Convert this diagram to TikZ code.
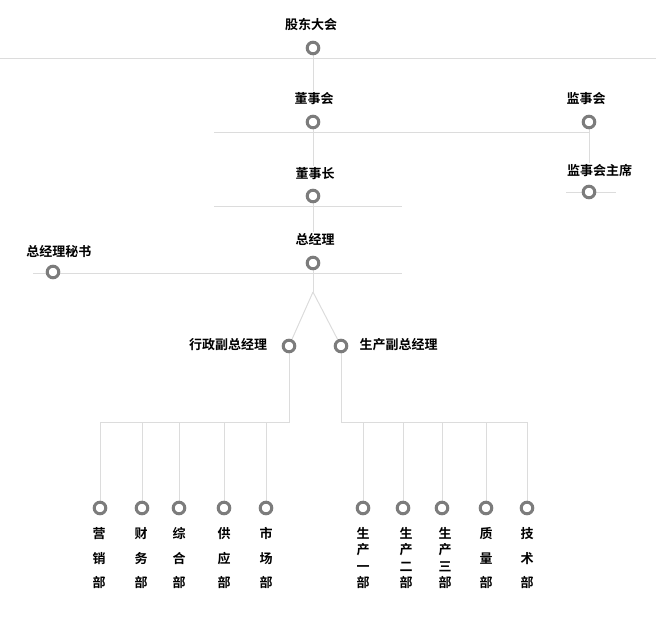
\documentclass[tikz,border=0pt]{standalone}
\usepackage{fontspec}
\setmainfont{Noto Sans CJK SC Bold}
\usetikzlibrary{backgrounds}
\definecolor{ringgray}{HTML}{7C7C7C}
\definecolor{linegray}{HTML}{DCDCDC}
\tikzset{
  ring/.style={circle, draw=ringgray, line width=3pt, fill=white, minimum size=11.6pt, inner sep=0pt},
  lbl/.style={font=\fontsize{13}{13}\selectfont, inner xsep=1pt, inner ysep=2pt, text height=10pt, text depth=2pt},
  conn/.style={draw=linegray, line width=1pt},
  leafA/.style={font=\fontsize{13}{24.5}\selectfont, align=center, inner sep=0pt},
  leafB/.style={font=\fontsize{13}{16.4}\selectfont, align=center, inner sep=0pt},
}
\begin{document}
\begin{tikzpicture}[x=1pt,y=-1pt]
\useasboundingbox (0,0) rectangle (656,640);
% labels
\node[lbl] (gdT) at (311,25) {股东大会};
\node[lbl] (dshT) at (314,99.5) {董事会};
\node[lbl] (dszT) at (315,174) {董事长};
\node[lbl] (jshT) at (586,99.5) {监事会};
\node[lbl] (jszT) at (599.5,171) {监事会主席};
\node[lbl] (zjlT) at (315,240) {总经理};
\node[lbl] (msT) at (59,252.5) {总经理秘书};
\node[lbl] (xzT) at (228,345) {行政副总经理};
\node[lbl] (scT) at (398.5,345) {生产副总经理};
% rings
\node[ring] (gdC) at (313,48) {};
\node[ring] (dshC) at (313,122) {};
\node[ring] (dszC) at (313,196) {};
\node[ring] (zjlC) at (313,263) {};
\node[ring] (jshC) at (589,122) {};
\node[ring] (jszC) at (589,192) {};
\node[ring] (msC) at (53,272) {};
\node[ring] (xzC) at (289,346) {};
\node[ring] (scC) at (341,346) {};
\node[ring] (yx) at (100,508) {};
\node[ring] (cw) at (142,508) {};
\node[ring] (zh) at (179,508) {};
\node[ring] (gy) at (224,508) {};
\node[ring] (sc) at (266,508) {};
\node[ring] (s1) at (363,508) {};
\node[ring] (s2) at (403,508) {};
\node[ring] (s3) at (442,508) {};
\node[ring] (zl) at (486,508) {};
\node[ring] (js) at (527,508) {};
% leaf labels
\node[leafA] (yxT) at (99,558.2) {营\\销\\部};
\node[leafA] (cwT) at (141,558.2) {财\\务\\部};
\node[leafA] (zhT) at (179,558.2) {综\\合\\部};
\node[leafA] (gyT) at (224,558.2) {供\\应\\部};
\node[leafA] (scLT) at (266,558.2) {市\\场\\部};
\node[leafB] (s1T) at (363,558.2) {生\\产\\一\\部};
\node[leafB] (s2T) at (406,558.2) {生\\产\\二\\部};
\node[leafB] (s3T) at (445,558.2) {生\\产\\三\\部};
\node[leafA] (zlT) at (486,558.2) {质\\量\\部};
\node[leafA] (jsT) at (527,558.2) {技\\术\\部};
% coordinates
\coordinate (h0a) at (0,58);   \coordinate (h0b) at (656,58);
\coordinate (h1a) at (214,132); \coordinate (h1b) at (589,132);
\coordinate (h2a) at (214,206); \coordinate (h2b) at (402,206);
\coordinate (h3a) at (33,273);  \coordinate (h3b) at (402,273);
\coordinate (h4a) at (566,192); \coordinate (h4b) at (616,192);
\coordinate (split) at (313,292);
\coordinate (busL) at (289,422);
\coordinate (busR) at (341,422);
\begin{scope}[on background layer]
\draw[conn] (h0a) -- (h0b);
\draw[conn] (h1a) -- (h1b);
\draw[conn] (h2a) -- (h2b);
\draw[conn] (h3a) -- (h3b);
\draw[conn] (h4a) -- (h4b);
\draw[conn] (gdC) -- (gdC |- dshT.north);
\draw[conn] (dshC) -- (dshC |- dszT.north);
\draw[conn] (dszC) -- (dszC |- zjlT.north);
\draw[conn] (zjlC) -- (split);
\draw[conn] (split) -- (xzC);
\draw[conn] (split) -- (scC);
\draw[conn] (jshC) -- (jshC |- jszT.north);
\foreach \n in {yx,cw,zh,gy,sc} \draw[conn] (xzC) -- (busL) -| (\n);
\foreach \n in {s1,s2,s3,zl,js} \draw[conn] (scC) -- (busR) -| (\n);
\end{scope}
\end{tikzpicture}
\end{document}
